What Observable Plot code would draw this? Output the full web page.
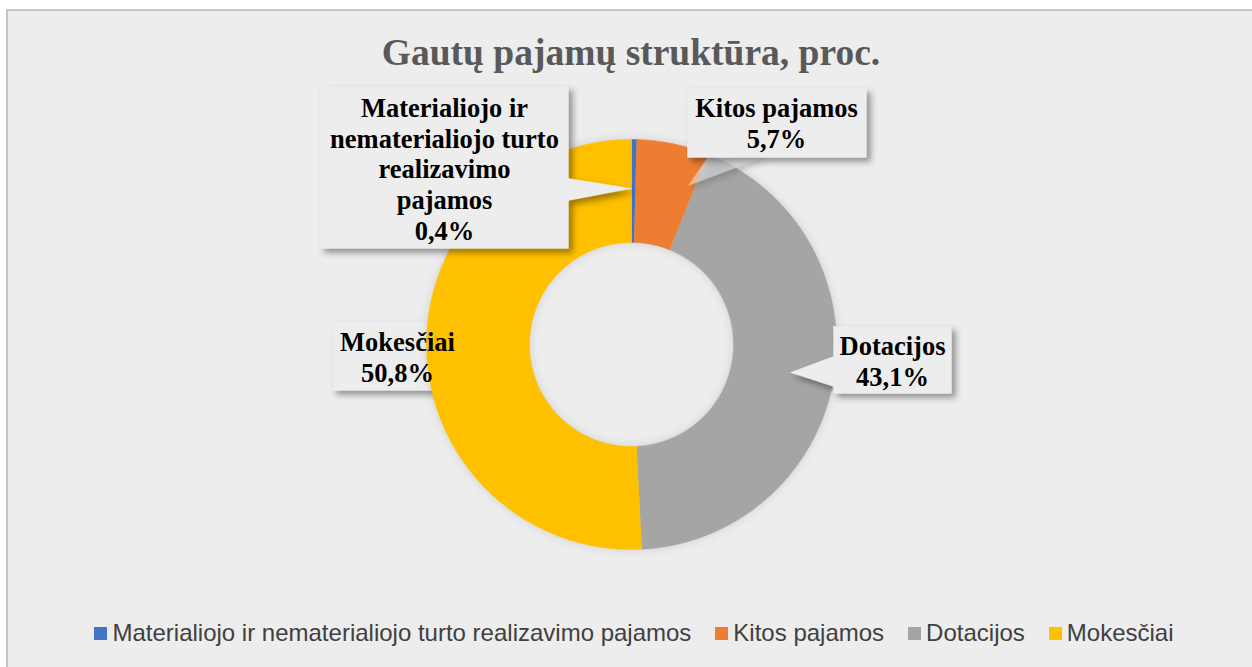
<!DOCTYPE html>
<html>
<head>
<meta charset="utf-8">
<script src="https://cdn.jsdelivr.net/npm/d3@7"></script>
<script src="https://cdn.jsdelivr.net/npm/@observablehq/plot@0.6"></script>
<style>
  html, body { margin: 0; padding: 0; background: #ffffff; width: 1252px; height: 667px; overflow: hidden; }
  #frame { position: absolute; left: 6px; top: 9px; width: 1260px; height: 670px; background: #ededed; border: 2px solid #c4c4c4; box-sizing: border-box; }
  #chart { position: absolute; left: 0; top: 0; }
  #title { position: absolute; left: 0; width: 1262px; top: 31px; text-align: center; font-family: "Liberation Serif", "Times New Roman", serif; font-weight: bold; font-size: 37.5px; line-height: 44px; color: #595959; }
  #legend { position: absolute; left: 16px; width: 1236px; top: 618px; display: flex; justify-content: center; font-family: "Liberation Sans", Arial, sans-serif; font-size: 24px; line-height: 30px; color: #404040; }
  #legend .item { display: flex; align-items: center; margin: 0 12px; }
  #legend .sw { width: 13px; height: 13px; margin-right: 5px; }
</style>
</head>
<body>
<div id="frame"></div>
<div id="chart"></div>
<div id="title">Gautų pajamų struktūra, proc.</div>
<div id="legend"></div>
<script>
// ---- data ----
const categories = ["Materialiojo ir nematerialiojo turto realizavimo pajamos", "Kitos pajamos", "Dotacijos", "Mokesčiai"];
const values = [0.4, 5.7, 43.1, 50.8];
const colors = ["#4472C4", "#ED7D31", "#A5A5A5", "#FFC000"];
const labelNames = ["Materialiojo ir\nnematerialiojo turto\nrealizavimo\npajamos", "Kitos pajamos", "Dotacijos", "Mokesčiai"];
const valueLabels = ["0,4%", "5,7%", "43,1%", "50,8%"];

// ---- layout (pixel space) ----
const W = 1252, H = 667;
const cx = 631, cy = 344, rOuter = 205, rInner = 102;
const callouts = [
  {box: [320, 86, 568, 248], side: "right", base: [178, 200], tip: [631, 188], text: [444, 168], layer: "above", split: false},
  {box: [687, 88, 866, 157], side: "bottom", base: [707, 763], tip: [688, 185], text: [776, 122], layer: "above", split: true},
  {box: [833, 326, 951, 393], side: "left", base: [356, 386], tip: [790, 372], text: [892, 360], layer: "above", split: false},
  {box: [332, 321, 463, 390], side: "right", base: [324, 352], tip: [478, 346], text: [397, 356], layer: "below", split: false}
];

// ---- slices via d3.pie ----
const pie = d3.pie().sort(null).startAngle(0).endAngle(2 * Math.PI)(values);
const slicePts = [];
pie.forEach((p, i) => {
  const n = Math.max(4, Math.ceil((p.endAngle - p.startAngle) / (Math.PI / 360)));
  for (let k = 0; k <= n; k++) {
    const a = p.startAngle + (p.endAngle - p.startAngle) * k / n;
    slicePts.push({cat: categories[i], x: cx + rOuter * Math.sin(a), y: cy - rOuter * Math.cos(a)});
  }
  for (let k = n; k >= 0; k--) {
    const a = p.startAngle + (p.endAngle - p.startAngle) * k / n;
    slicePts.push({cat: categories[i], x: cx + rInner * Math.sin(a), y: cy - rInner * Math.cos(a)});
  }
});

// ---- callout polygons ----
function calloutPoly(c, withPointer) {
  const [x0, y0, x1, y1] = c.box;
  let pts;
  if (!withPointer) pts = [[x0, y0], [x1, y0], [x1, y1], [x0, y1]];
  else if (c.side === "right") pts = [[x0, y0], [x1, y0], [x1, c.base[0]], c.tip, [x1, c.base[1]], [x1, y1], [x0, y1]];
  else if (c.side === "left") pts = [[x0, y0], [x1, y0], [x1, y1], [x0, y1], [x0, c.base[1]], c.tip, [x0, c.base[0]]];
  else pts = [[x0, y0], [x1, y0], [x1, y1], [c.base[1], y1], c.tip, [c.base[0], y1], [x0, y1]];
  pts.push(pts[0]);
  return pts;
}
function pointerPoly(c) {
  const [x0, y0, x1, y1] = c.box;
  if (c.side === "bottom") return [[c.base[0], y1], [c.base[1], y1], c.tip, [c.base[0], y1]];
  const xe = c.side === "right" ? x1 : x0;
  return [[xe, c.base[0]], c.tip, [xe, c.base[1]], [xe, c.base[0]]];
}
const belowPts = [], abovePts = [], pointerPts = [];
callouts.forEach((c, i) => {
  const target = c.layer === "below" ? belowPts : abovePts;
  calloutPoly(c, !c.split).forEach(([x, y]) => target.push({id: i, x, y}));
  if (c.split) pointerPoly(c).forEach(([x, y]) => pointerPts.push({id: i, x, y}));
});

const labels = categories.map((c, i) => ({
  text: labelNames[i] + "\n" + valueLabels[i],
  x: callouts[i].text[0], y: callouts[i].text[1]
}));

const chart = Plot.plot({
  width: W, height: H, margin: 0,
  x: {domain: [0, W], range: [0, W], axis: null},
  y: {domain: [0, H], range: [0, H], axis: null},
  color: {domain: categories, range: colors},
  style: {background: "transparent", overflow: "visible"},
  marks: [
    Plot.line(belowPts, {x: "x", y: "y", z: "id", fill: "#ededed", stroke: "#ededed", strokeWidth: 0.5}),
    Plot.line(slicePts, {x: "x", y: "y", z: "cat", fill: "cat", stroke: "cat", strokeWidth: 0.5}),
    Plot.line(pointerPts, {x: "x", y: "y", z: "id", fill: "#ededed", fillOpacity: 0.55, stroke: "#ededed", strokeOpacity: 0.3, strokeWidth: 0.5}),
    Plot.line(abovePts, {x: "x", y: "y", z: "id", fill: "#ededed", stroke: "#ededed", strokeWidth: 0.5}),
    Plot.text(labels, {x: "x", y: "y", text: "text", fontFamily: "Liberation Serif, Times New Roman, serif", fontWeight: "bold", fontSize: 26.5, lineHeight: 1.16, fill: "#000000", textAnchor: "middle"})
  ]
});
document.getElementById("chart").appendChild(chart);
const groups = chart.querySelectorAll('g[aria-label="line"]');
const shadow = "drop-shadow(4px 4px 3px rgba(0,0,0,0.38))";
groups[0].style.filter = shadow;
groups[1].style.filter = "drop-shadow(0px 0px 5px rgba(0,0,0,0.12))";
groups[2].style.filter = "drop-shadow(3px 3px 3px rgba(0,0,0,0.3))";
groups[3].querySelectorAll("path").forEach(p => p.style.filter = shadow);

// legend
const leg = document.getElementById("legend");
categories.forEach((c, i) => {
  const it = document.createElement("div");
  it.className = "item";
  it.innerHTML = `<span class="sw" style="background:${colors[i]}"></span><span>${c}</span>`;
  leg.appendChild(it);
});
</script>
</body>
</html>
